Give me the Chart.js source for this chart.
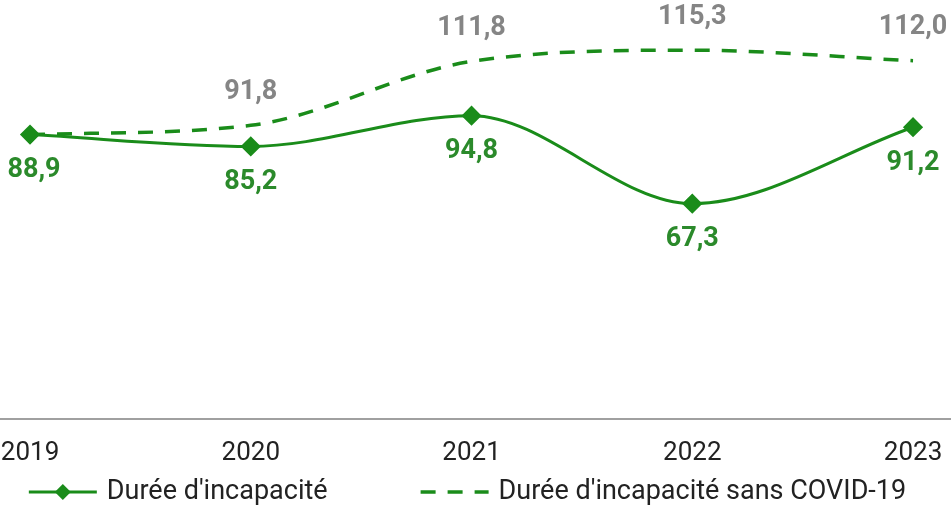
<!DOCTYPE html>
<html>
<head>
<meta charset="utf-8">
<script src="https://cdn.jsdelivr.net/npm/chart.js@4"></script>
<style>
    html, body { margin: 0; padding: 0; background: #fff; }
    .wrap { position: relative; width: 951px; height: 511px; }
</style>
</head>
<body>
<div class="wrap"><canvas id="main_chart"></canvas></div>
<script>
// chart data
const years = ["2019", "2020", "2021", "2022", "2023"];
const duree = [88.9, 85.2, 94.8, 67.3, 91.2];
const dureeSansCovid = [88.9, 91.8, 111.8, 115.3, 112.0];
const seriesNames = ["Durée d'incapacité", "Durée d'incapacité sans COVID-19"];

const green = '#1a8c1a';
const font = 'Roboto, "Noto Sans", sans-serif';

const fmt = (v) => v.toFixed(1).replace('.', ',');

// value labels under / above the points
const valueLabels = {
    id: 'valueLabels',
    afterDatasetsDraw(chart) {
        const ctx = chart.ctx;
        ctx.save();
        ctx.font = 'bold 27px ' + font;
        ctx.textAlign = 'center';
        ctx.textBaseline = 'middle';
        chart.data.datasets.forEach((ds, i) => {
            chart.getDatasetMeta(i).data.forEach((pt, j) => {
                if (i == 1 && j == 0) return; // same point as the solid line
                let x = Math.min(Math.max(pt.x, 34), chart.width - 36);
                if (i == 0) {
                    ctx.fillStyle = '#2b8a2b';
                    ctx.fillText(fmt(ds.data[j].y), x, pt.y + 36);
                } else {
                    ctx.fillStyle = '#858585';
                    ctx.fillText(fmt(ds.data[j].y), x, pt.y - 33);
                }
            });
        });
        ctx.restore();
    }
};

// legend with line samples
const lineLegend = {
    id: 'lineLegend',
    afterDraw(chart) {
        const ctx = chart.ctx;
        const y = 492;
        const sampleW = 68, gapText = 10, gapItem = 93;
        ctx.save();
        ctx.font = '27px ' + font;
        ctx.textBaseline = 'middle';
        let widths = chart.data.datasets.map(ds => ctx.measureText(ds.label).width);
        let total = widths.reduce((a, w) => a + sampleW + gapText + w, 0) + gapItem;
        let x = (chart.width - total) / 2 - 8;
        chart.data.datasets.forEach((ds, i) => {
            ctx.strokeStyle = ds.borderColor;
            ctx.lineWidth = ds.borderWidth;
            ctx.setLineDash(ds.borderDash || []);
            ctx.beginPath();
            ctx.moveTo(x, y);
            ctx.lineTo(x + sampleW, y);
            ctx.stroke();
            ctx.setLineDash([]);
            if (ds.pointRadius > 0) {
                let r = ds.pointRadius;
                let cx = x + sampleW / 2;
                ctx.fillStyle = ds.pointBackgroundColor;
                ctx.beginPath();
                ctx.moveTo(cx, y - r);
                ctx.lineTo(cx + r, y);
                ctx.lineTo(cx, y + r);
                ctx.lineTo(cx - r, y);
                ctx.closePath();
                ctx.fill();
            }
            ctx.fillStyle = '#222';
            ctx.fillText(ds.label, x + sampleW + gapText, y);
            x += sampleW + gapText + widths[i] + gapItem;
        });
        ctx.restore();
    }
};

let chart1 = new Chart(document.getElementById('main_chart'), {
    type: 'line',
    data: {
        datasets: [{
            label: seriesNames[0],
            data: years.map((y, i) => ({ x: Number(y), y: duree[i] })),
            borderColor: green,
            borderWidth: 3,
            pointStyle: 'rectRot',
            pointRadius: 8,
            pointBackgroundColor: green,
            pointBorderColor: green,
            cubicInterpolationMode: 'monotone',
        }, {
            label: seriesNames[1],
            data: years.map((y, i) => ({ x: Number(y), y: dureeSansCovid[i] })),
            borderColor: green,
            borderWidth: 3.5,
            borderDash: [15, 12],
            pointRadius: 0,
            pointBackgroundColor: green,
            cubicInterpolationMode: 'monotone',
        }]
    },
    options: {
        responsive: true,
        maintainAspectRatio: false,
        animation: false,
        layout: { autoPadding: false, padding: { top: 0, left: 0, right: 0, bottom: 23 } },
        plugins: {
            legend: { display: false },
            tooltip: { enabled: false }
        },
        scales: {
            x: {
                type: 'linear',
                min: 2018.864,
                max: 2023.172,
                afterBuildTicks: (s) => { s.ticks = years.map(v => ({ value: Number(v) })); },
                afterFit: (s) => { s.paddingLeft = 0; s.paddingRight = 0; },
                grid: { display: false, drawTicks: false },
                border: { display: true, color: '#a0a0a0', width: 2 },
                ticks: {
                    padding: 19,
                    color: '#222',
                    font: { family: font, size: 26 },
                    callback: (v) => String(v),
                    maxRotation: 0,
                }
            },
            y: {
                display: false,
                min: 0,
                max: 131
            }
        }
    },
    plugins: [valueLabels, lineLegend]
});
</script>
</body>
</html>
